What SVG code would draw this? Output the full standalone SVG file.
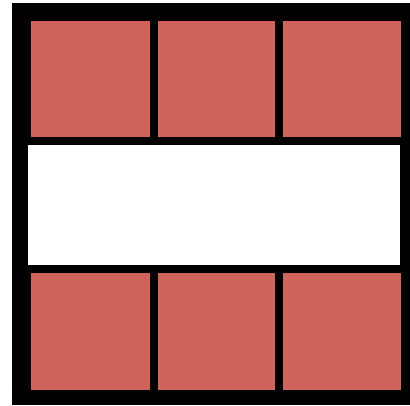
<svg xmlns="http://www.w3.org/2000/svg" width="410" height="406" viewBox="0 0 410 406">
<style>
.cell{fill:#d0635c;}
.band{fill:#ffffff;}
</style>
<rect x="0" y="0" width="410" height="406" fill="#ffffff"/>
<g id="frame"><rect x="12" y="3" width="398" height="402" fill="#000000"/></g>
<g id="top-left"><rect class="cell" x="31" y="21" width="119" height="116"/></g>
<g id="top-middle"><rect class="cell" x="158" y="21" width="117" height="116"/></g>
<g id="top-right"><rect class="cell" x="283" y="21" width="118" height="116"/></g>
<g id="middle-band"><rect class="band" x="28" y="145" width="372" height="120"/></g>
<g id="bottom-left"><rect class="cell" x="31" y="273" width="119" height="117"/></g>
<g id="bottom-middle"><rect class="cell" x="158" y="273" width="117" height="117"/></g>
<g id="bottom-right"><rect class="cell" x="283" y="273" width="118" height="117"/></g>
<g id="connectors"></g>
</svg>
